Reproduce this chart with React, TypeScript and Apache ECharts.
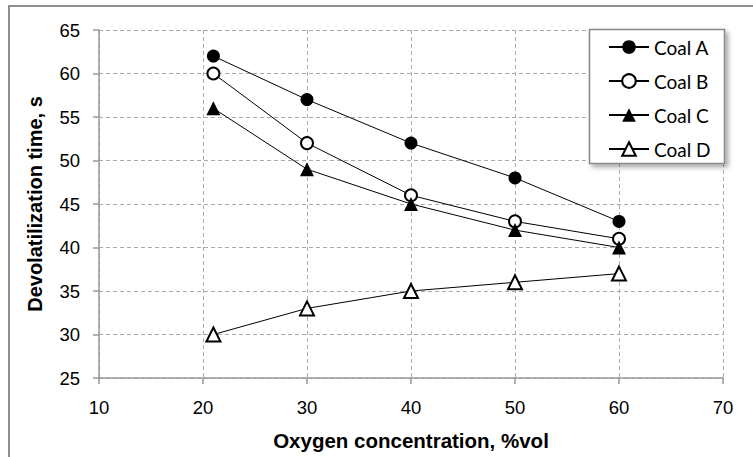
import React, { useEffect, useRef } from "react";
import * as echarts from "echarts";

const oxygen = [21, 30, 40, 50, 60];
const coalA = [62, 57, 52, 48, 43];
const coalB = [60, 52, 46, 43, 41];
const coalC = [56, 49, 45, 42, 40];
const coalD = [30, 33, 35, 36, 37];
const seriesNames = ["Coal A", "Coal B", "Coal C", "Coal D"];

const pair = (ys: number[]) => oxygen.map((x, i) => [x, ys[i]]);

export default function App() {
  const ref = useRef<HTMLDivElement>(null);
  useEffect(() => {
    document.body.style.margin = "0";
    const chart = echarts.init(ref.current!, null, { renderer: "svg" });
    const mk = (name: string, data: number[], symbol: string, filled: boolean, size: number) => ({
      name,
      type: "line",
      data: pair(data),
      symbol,
      symbolSize: size,
      showSymbol: true,
      lineStyle: { color: "#000", width: 1 },
      itemStyle: {
        color: filled ? "#000" : "#fff",
        borderColor: "#000",
        borderWidth: filled ? 0 : 2,
      },
      emphasis: { disabled: true },
      z: 5,
    });
    chart.setOption({
      animation: false,
      backgroundColor: "#fff",
      graphic: [
        {
          type: "rect",
          shape: { x: 9, y: 6, width: 800, height: 500 },
          style: { fill: "none", stroke: "#8f8f8f", lineWidth: 2 },
          z: 0,
          silent: true,
        },
        {
          type: "rect",
          shape: { x: 589.5, y: 29.5, width: 135, height: 134 },
          style: {
            fill: "#fff",
            stroke: "#888",
            lineWidth: 1.5,
            shadowBlur: 5,
            shadowOffsetX: 3,
            shadowOffsetY: 3,
            shadowColor: "rgba(0,0,0,0.35)",
          },
          z: 8,
          silent: true,
        },
      ],
      grid: { left: 99, top: 30, right: 30, bottom: 79 },
      legend: {
        data: seriesNames,
        orient: "vertical",
        left: 589,
        top: 29,
        padding: [8, 10, 6, 19],
        itemWidth: 40,
        itemHeight: 17,
        itemGap: 14,
        z: 10,
        textStyle: { fontFamily: "Lato", fontSize: 19, color: "#000", lineHeight: 20 },
      },
      xAxis: {
        type: "value",
        min: 10,
        max: 70,
        interval: 10,
        name: "Oxygen concentration, %vol",
        nameLocation: "middle",
        nameGap: 52,
        nameTextStyle: { fontFamily: "Liberation Sans", fontWeight: "bold", fontSize: 20.5, color: "#000" },
        axisLine: { lineStyle: { color: "#999", width: 1.5 } },
        axisTick: { show: true, length: 6, lineStyle: { color: "#999", width: 1.5 } },
        axisLabel: { fontFamily: "Liberation Sans", fontSize: 18.5, color: "#000", margin: 20 },
        splitLine: { show: true, lineStyle: { color: "#aaa", type: [4, 3], width: 1 } },
      },
      yAxis: {
        type: "value",
        min: 25,
        max: 65,
        interval: 5,
        name: "Devolatilization time, s",
        nameLocation: "middle",
        nameGap: 54,
        nameTextStyle: { fontFamily: "Liberation Sans", fontWeight: "bold", fontSize: 20, color: "#000" },
        axisLine: { show: true, lineStyle: { color: "#999", width: 1.5 } },
        axisTick: { show: true, length: 6, lineStyle: { color: "#999", width: 1.5 } },
        axisLabel: { fontFamily: "Liberation Sans", fontSize: 18.5, color: "#000", margin: 19 },
        splitLine: { show: true, lineStyle: { color: "#aaa", type: [4, 3], width: 1 } },
      },
      series: [
        mk("Coal A", coalA, "circle", true, 13),
        mk("Coal B", coalB, "circle", false, 12),
        mk("Coal C", coalC, "triangle", true, 14),
        mk("Coal D", coalD, "triangle", false, 14),
      ],
    });
    return () => chart.dispose();
  }, []);
  return <div ref={ref} style={{ width: 753, height: 457 }} />;
}
